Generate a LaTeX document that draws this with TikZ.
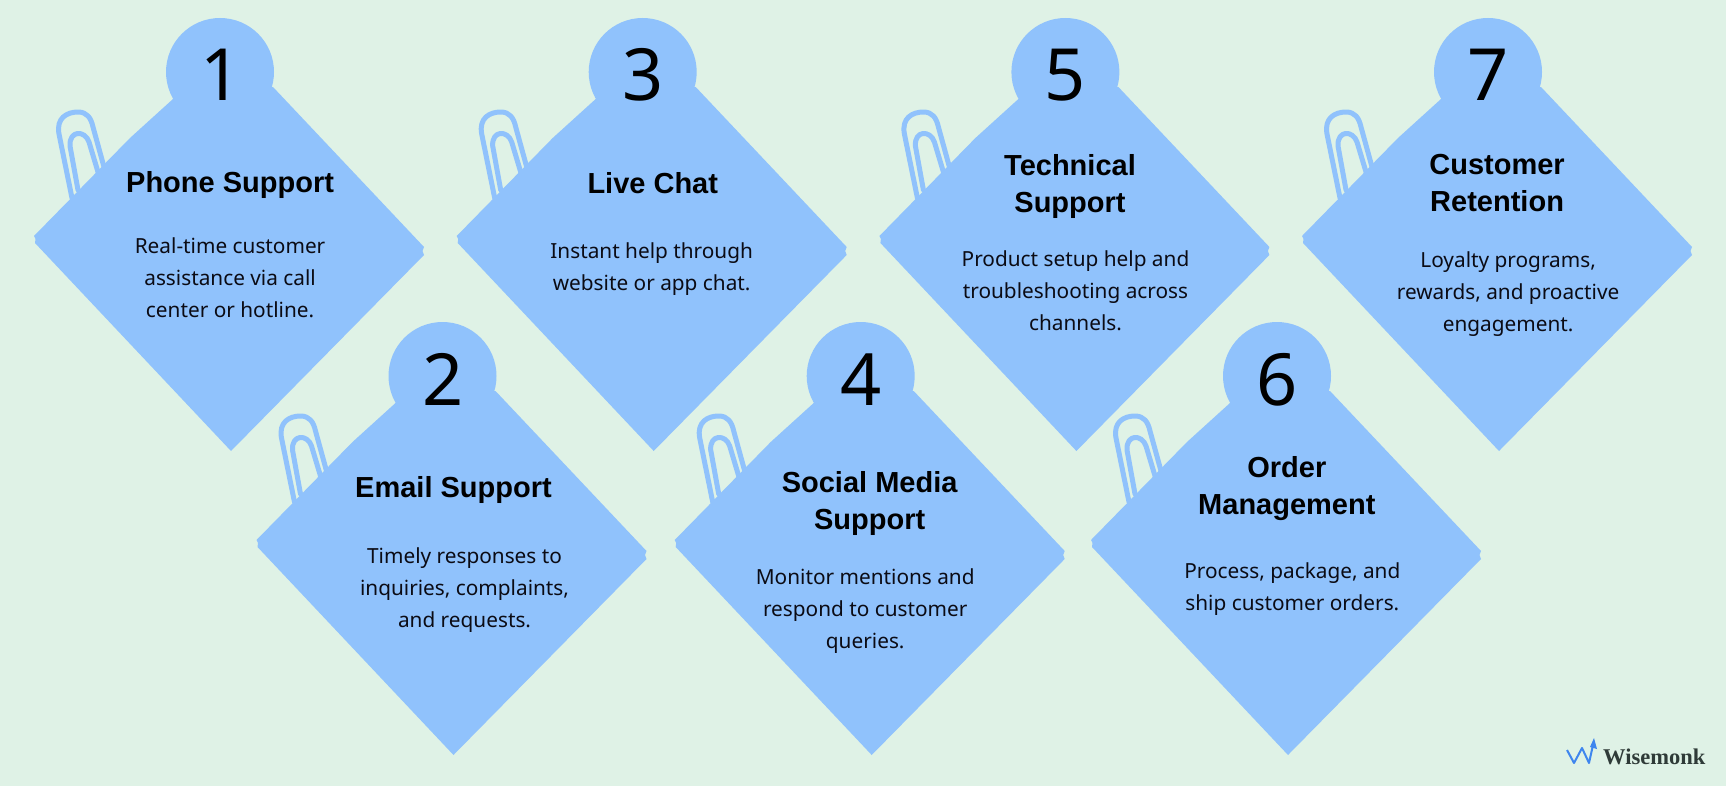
\documentclass[tikz,border=0pt]{standalone}
\usepackage{fontspec}
\setmainfont{Noto Sans}
\newfontfamily\logofont{Liberation Serif}
\newfontfamily\titlefont{Liberation Sans}
\definecolor{bgc}{HTML}{DFF2E6}
\definecolor{cardc}{HTML}{90C2FC}
\definecolor{inkc}{HTML}{0B0B14}
\definecolor{logoblue}{HTML}{3F86EE}
\definecolor{logoink}{HTML}{2F3B38}
\tikzset{
  numlabel/.style={font=\fontsize{72}{72}\selectfont,text=black,inner sep=0pt},
  titlelabel/.style={font=\titlefont\bfseries\fontsize{29}{37}\selectfont,text=black,align=center,inner sep=0pt},
  bodylabel/.style={font=\fontsize{20.8}{32}\selectfont,text=inkc,align=center,inner sep=0pt},
  clipline/.style={draw=cardc,line width=5pt,line cap=round,line join=round},
}
\newcommand{\cardshape}[2]{%
  \begin{scope}[shift={(#1,#2)}]
    \draw[clipline] (-148,126) -- (-161,62) .. controls (-164,46) and (-153,40) .. (-142,40)
       .. controls (-133,40) and (-129,46) .. (-127,55) -- (-116,95);
    \draw[clipline] (-122,100) -- (-131,70) .. controls (-135,58) and (-151,58) .. (-150,74) -- (-142,118);
    \fill[cardc] (-47,27) -- (-90,66) -- (-186,164) -- (-184.5,167) -- (-185,171) -- (11,379) -- (204,183) -- (202.5,179) -- (204,175) -- (53,15) -- cycle;
    \fill[cardc] (0,0) circle (54);
  \end{scope}}
\begin{document}
\begin{tikzpicture}[x=1pt,y=-1pt]
\fill[bgc] (0,0) rectangle (1726,786);
\useasboundingbox (0,0) rectangle (1726,786);
\cardshape{220}{72}
\cardshape{442.5}{376}
\cardshape{642.7}{72}
\cardshape{860.7}{376}
\cardshape{1065.4}{72}
\cardshape{1277}{376}
\cardshape{1488}{72}
\begin{scope}[x=1.1008pt,y=-1.1008pt]
\node[numlabel] (n1) at (200.5,68) {1};
\node[numlabel] (n3) at (584,68) {3};
\node[numlabel] (n5) at (968,68) {5};
\node[numlabel] (n7) at (1352,68) {7};
\node[numlabel] (n2) at (402.5,345) {2};
\node[numlabel] (n4) at (782,345) {4};
\node[numlabel] (n6) at (1160,345) {6};
\node[titlelabel] (t1) at (209,168) {Phone Support};
\node[titlelabel] (t3) at (593,166) {Live Chat};
\node[titlelabel] (t5) at (972,169) {Technical\\Support};
\node[titlelabel] (t7) at (1360,166) {Customer\\Retention};
\node[titlelabel] (t2) at (412,445) {Email Support};
\node[titlelabel] (t4) at (790,457) {Social Media\\Support};
\node[titlelabel] (t6) at (1169,444) {Order\\Management};
\node[bodylabel] (b1) at (209,252.5) {Real-time customer\\assistance via call\\center or hotline.};
\node[bodylabel] (b3) at (592,244) {Instant help through\\website or app chat.};
\node[bodylabel] (b5) at (977,264.5) {Product setup help and\\troubleshooting across\\channels.};
\node[bodylabel] (b7) at (1370,267) {Loyalty programs,\\rewards, and proactive\\engagement.};
\node[bodylabel] (b2) at (422,536) {Timely responses to\\inquiries, complaints,\\and requests.};
\node[bodylabel] (b4) at (786,555) {Monitor mentions and\\respond to customer\\queries.};
\node[bodylabel] (b6) at (1174,535) {Process, package, and\\ship customer orders.};
\end{scope}
\coordinate (wa) at (1567,750);
\coordinate (wb) at (1574,763);
\coordinate (wc) at (1582,748);
\coordinate (wd) at (1589,763);
\coordinate (we) at (1593,745);
\draw[logoblue,line width=2pt,line join=round] (wa) -- (wb) -- (wc) -- (wd) -- (we);
\fill[logoblue] (1594,738) -- (1597,749) -- (1590,747) -- cycle;
\node[font=\logofont\bfseries\fontsize{22.5}{23}\selectfont,text=logoink,anchor=base west,inner sep=0pt] (logo) at (1603,764) {Wisemonk};
\end{tikzpicture}
\end{document}
